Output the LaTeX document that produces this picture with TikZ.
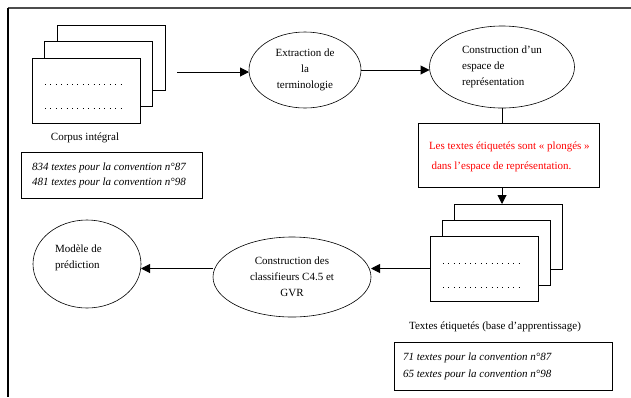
\documentclass[tikz,border=0pt]{standalone}
\usepackage{fontspec}
\setmainfont{Liberation Serif}
\usetikzlibrary{shapes.geometric,arrows.meta,calc}
\begin{document}
\begin{tikzpicture}[x=1pt,y=-1pt,
  every node/.style={inner sep=0pt, outer sep=0pt},
  txt/.style={font=\fontsize{11}{16}\selectfont},
  page/.style={draw, fill=white, line width=0.8pt, minimum width=108pt, minimum height=65pt},
  oval/.style={draw, ellipse, line width=0.6pt, txt},
  box/.style={draw, line width=0.8pt},
  arr/.style={line width=1pt, -{Triangle[length=9pt,width=9pt]}},
  conn/.style={line width=1pt},
  dots/.style={line width=0.8pt, dash pattern=on 0.8pt off 4.6pt}
]
\useasboundingbox (0,0) rectangle (631,397);
\fill[white] (0,0) rectangle (631,397);
% frame
\draw[line width=1.5pt, black!70] (8,8) -- (631,8);
\draw[line width=1.3pt] (8,8) -- (8,397);

% document stack 1
\node[page] (p1b) at (111,57.5) {};
\node[page] (p1m) at (98.5,74) {};
\node[page] (p1f) at (86.5,90.5) {};
\draw[dots] (45,84) -- (123,84);
\draw[dots] (45,108) -- (123,108);
\node[txt] (corpus) at (85,138) {Corpus intégral};
\node[box, minimum width=181pt, minimum height=46pt] (b1) at (111.5,175) {};
\node[txt, anchor=west, align=left, font=\fontsize{11}{15}\selectfont\itshape] (b1t) at (32,175.5)
  {834 textes pour la convention n°87\\481 textes pour la convention n°98};

% ellipses
\node[oval, minimum width=112pt, minimum height=76pt, align=center] (ext) at (305,70)
  {Extraction de\\la\\terminologie};
\node[oval, minimum width=145pt, minimum height=82pt, align=left] (esp) at (502,67)
  {Construction d’un\\espace de\\représentation};
\node[oval, minimum width=158pt, minimum height=80pt, align=center] (cls) at (292,277)
  {Construction des\\classifieurs C4.5 et\\GVR};
\node[oval, minimum width=108pt, minimum height=88pt] (mod) at (87,264) {};
\node[txt, anchor=west, align=left] (modt) at (55,258) {Modèle de\\prédiction};

% red box
\node[box, minimum width=181pt, minimum height=64pt] (red) at (508.5,155) {};
\node[txt, anchor=west, align=left, text=red, font=\fontsize{11}{20}\selectfont] (redt) at (429,157)
  {Les textes étiquetés sont « plongés »\\\hspace{2.5pt}dans l’espace de représentation.};

% document stack 2
\node[page] (p2b) at (508.5,236.5) {};
\node[page] (p2m) at (496.5,252.5) {};
\node[page] (p2f) at (484.5,268.5) {};
\draw[dots] (443,263) -- (520,263);
\draw[dots] (443,287) -- (520,287);
\node[txt] (base) at (495,327) {Textes étiquetés (base d’apprentissage)};
\node[box, minimum width=218pt, minimum height=48pt] (b2) at (503,366) {};
\node[txt, anchor=west, align=left, font=\fontsize{11}{16.5}\selectfont\itshape] (b2t) at (403,366.5)
  {71 textes pour la convention n°87\\65 textes pour la convention n°98};

% connectors
\coordinate (s1) at (177,72);
\draw[arr] (s1) -- (s1 -| ext.west);
\draw[arr] (ext.east) -- (ext.east -| esp.west);
\draw[conn] (esp.south) -- (esp.south |- red.north);
\draw[arr] (red.south -| esp.south) -- (esp.south |- p2b.north);
\draw[arr] (p2f.west) -- (p2f.west -| cls.east);
\draw[arr] (cls.west |- p2f.west) -- (mod.east |- p2f.west);
\end{tikzpicture}
\end{document}
